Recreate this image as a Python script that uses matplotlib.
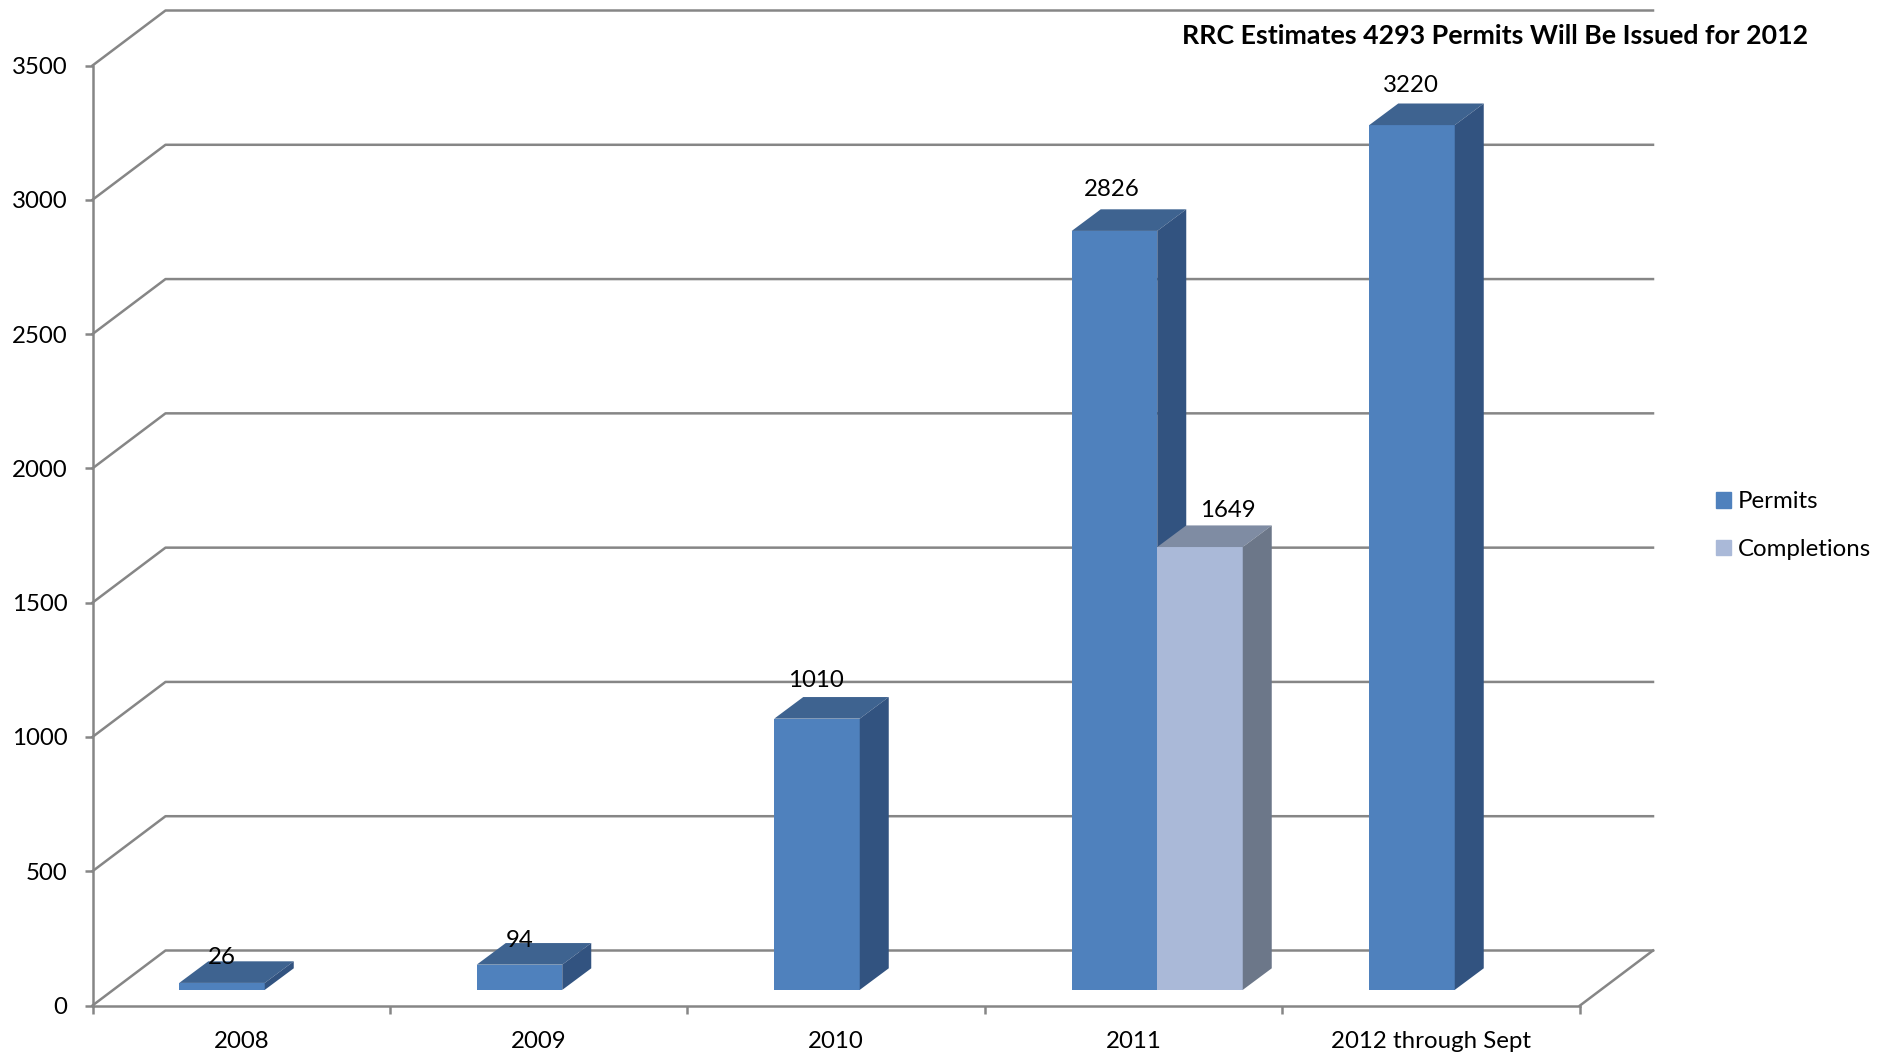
import matplotlib
matplotlib.use("Agg")
import matplotlib.pyplot as plt
from matplotlib.patches import Patch

plt.rcParams["font.family"] = ["Lato", "DejaVu Sans"]

categories = ["2008", "2009", "2010", "2011", "2012 through Sept"]
permits = [26, 94, 1010, 2826, 3220]
completions = [None, None, None, 1649, None]
y_ticks = [0, 500, 1000, 1500, 2000, 2500, 3000, 3500]
title = "RRC Estimates 4293 Permits Will Be Issued for 2012"

W, H = 1879, 1054
LEFT, RIGHT, TOP, BOTTOM = 92.5, 1580, 65.5, 1005.5

fig = plt.figure(figsize=(W / 100, H / 100), dpi=100)
ax = fig.add_axes([LEFT / W, 1 - BOTTOM / H, (RIGHT - LEFT) / W, (BOTTOM - TOP) / H])
ax.set_xlim(0, len(categories))
ax.set_ylim(0, 3500)

# pixel sizes to data units
px_x = len(categories) / (RIGHT - LEFT)
px_y = 3500 / (BOTTOM - TOP)
WALL_DX, WALL_DY = 73 * px_x, 55 * px_y
BAR_W = 85.5 * px_x
FRONT_DX, FRONT_DY = 23.5 * px_x, 15.6 * px_y
DEPTH_DX, DEPTH_DY = 29 * px_x, 21.6 * px_y

GRID = "#868686"
LINE_W = 1.8

# walls and floor
for v in y_ticks:
    ax.plot([0, WALL_DX, len(categories) + WALL_DX], [v, v + WALL_DY, v + WALL_DY],
            color=GRID, lw=LINE_W, clip_on=False, zorder=1)
ax.plot([len(categories), len(categories) + WALL_DX], [0, WALL_DY], color=GRID, lw=LINE_W, clip_on=False, zorder=1)


def draw_bar(x, v, front, top, side):
    y0 = FRONT_DY
    y1 = FRONT_DY + v
    ax.bar(x, v, width=BAR_W, bottom=y0, align="edge", color=front, zorder=3, clip_on=False)
    ax.fill([x, x + DEPTH_DX, x + BAR_W + DEPTH_DX, x + BAR_W],
            [y1, y1 + DEPTH_DY, y1 + DEPTH_DY, y1], color=top, lw=0, zorder=3, clip_on=False)
    ax.fill([x + BAR_W, x + BAR_W + DEPTH_DX, x + BAR_W + DEPTH_DX, x + BAR_W],
            [y0, y0 + DEPTH_DY, y1 + DEPTH_DY, y1], color=side, lw=0, zorder=3, clip_on=False)


# label offsets from the bar top centre, in points
permit_label_off = [(0, 18), (0, 17.5), (-1, 27.5), (-2, 30), (-1, 28.5)]
completion_label_off = (20, 26.5)

for i, v in enumerate(permits):
    x = i + 0.5 - BAR_W + FRONT_DX
    draw_bar(x, v, "#4F81BD", "#3E6390", "#325380")
    ax.annotate(str(v), (x + BAR_W / 2, FRONT_DY + v), xytext=permit_label_off[i], textcoords="offset points",
                ha="center", va="center", fontsize=17.3, color="black", zorder=6, annotation_clip=False)

for i, v in enumerate(completions):
    if v is None:
        continue
    x = i + 0.5 + FRONT_DX
    draw_bar(x, v, "#AAB9D8", "#7F8CA3", "#6C7789")
    ax.annotate(str(v), (x + BAR_W / 2, FRONT_DY + v), xytext=completion_label_off, textcoords="offset points",
                ha="center", va="center", fontsize=17.3, color="black", zorder=6, annotation_clip=False)

# axes
for s in ["top", "right"]:
    ax.spines[s].set_visible(False)
for s in ["left", "bottom"]:
    ax.spines[s].set_color(GRID)
    ax.spines[s].set_linewidth(LINE_W)
ax.set_yticks(y_ticks)
ax.set_xticks(range(len(categories) + 1))
ax.set_xticklabels([])
ax.set_xticks([i + 0.5 for i in range(len(categories))], labels=categories, minor=True)
ax.tick_params(axis="both", which="major", color=GRID, width=LINE_W, length=6, labelsize=17.3, pad=12)
ax.tick_params(axis="x", which="minor", length=0, labelsize=17.3, pad=18.5)

fig.text(1182 / W, 1 - 35.5 / H, title, fontsize=19.3, fontweight="bold", ha="left", va="center", color="black")

handles = [Patch(color="#4F81BD", label="Permits"), Patch(color="#AAB9D8", label="Completions")]
fig.legend(handles=handles, loc="center left", bbox_to_anchor=(1716 / W, 1 - 525.5 / H), frameon=False,
           fontsize=17.3, handlelength=0.64, handleheight=0.64, handletextpad=0.25,
           labelspacing=1.12, borderpad=0, borderaxespad=0)

fig.savefig("out.png", dpi=100)
